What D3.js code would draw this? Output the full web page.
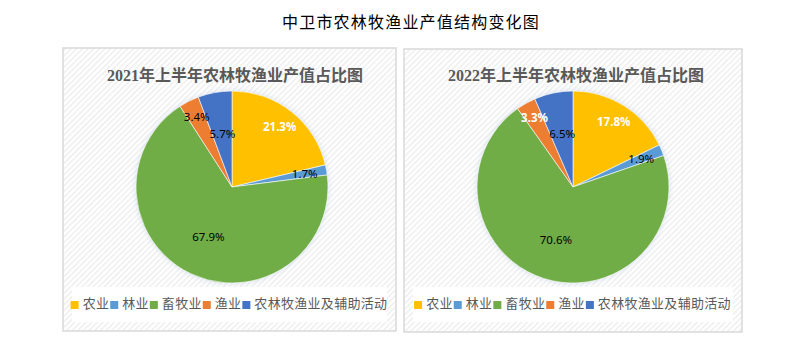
<!DOCTYPE html>
<html>
<head>
<meta charset="utf-8">
<script src="https://cdn.jsdelivr.net/npm/d3@7"></script>
<style>
  html, body { margin: 0; padding: 0; background: #fff; }
  svg { display: block; }
</style>
</head>
<body>
<svg id="chart" width="797" height="346"></svg>
<script>
// Sector shares of agriculture, forestry, husbandry and fishery output (%)
const categories = ["农业", "林业", "畜牧业", "渔业", "农林牧渔业及辅助活动"];
const colors = ["#FFC000", "#5B9BD5", "#70AD47", "#ED7D31", "#4472C4"];
const values2021 = [21.3, 1.7, 67.9, 3.4, 5.7];
const values2022 = [17.8, 1.9, 70.6, 3.3, 6.5];
const chartTitle = "中卫市农林牧渔业产值结构变化图";
const panelTitles = ["2021年上半年农林牧渔业产值占比图", "2022年上半年农林牧渔业产值占比图"];

// Label placement (fraction of radius) and label styling per slice
const labelRadius = [0.8, 0.77, 0.58, 0.82, 0.56];
const labelStyles = [
  [{fill: "#fff", bold: true}, {fill: "#000"}, {fill: "#000"}, {fill: "#000"}, {fill: "#000"}],
  [{fill: "#fff", bold: true}, {fill: "#000"}, {fill: "#000"}, {fill: "#fff", bold: true}, {fill: "#000"}]
];

const svg = d3.select("#chart");
const defs = svg.append("defs");

// Light diagonal hatch used as panel background
const pat = defs.append("pattern")
  .attr("id", "hatch").attr("patternUnits", "userSpaceOnUse")
  .attr("width", 4).attr("height", 4)
  .attr("patternTransform", "rotate(45)");
pat.append("rect").attr("width", 4).attr("height", 4).attr("fill", "#fff");
pat.append("rect").attr("width", 1.3).attr("height", 4).attr("fill", "#ececec");

defs.append("filter").attr("id", "halo")
  .attr("x", "-20%").attr("y", "-20%").attr("width", "140%").attr("height", "140%")
  .append("feGaussianBlur").attr("stdDeviation", 2.5);

svg.append("text")
  .attr("x", 411).attr("y", 28)
  .attr("text-anchor", "middle")
  .attr("font-family", "'Noto Sans CJK SC', sans-serif")
  .attr("font-size", 16)
  .attr("letter-spacing", 1.2)
  .attr("fill", "#000")
  .text(chartTitle);

const panels = [
  {x: 63, y: 48, w: 333, h: 283, cx: 232, cy: 187, values: values2021},
  {x: 404, y: 49, w: 338, h: 283, cx: 573, cy: 187, values: values2022}
];

const r = 96;
const pie = d3.pie().sort(null).value(d => d);
const arc = d3.arc().innerRadius(0).outerRadius(r);

panels.forEach((p, pi) => {
  const g = svg.append("g");
  g.append("rect")
    .attr("x", p.x).attr("y", p.y).attr("width", p.w).attr("height", p.h)
    .attr("fill", "url(#hatch)")
    .attr("stroke", "#d9d9d9").attr("stroke-width", 1.5);

  // Panel title: serif digits, CJK text
  const t = g.append("text")
    .attr("x", p.cx + 3).attr("y", 81)
    .attr("text-anchor", "middle")
    .attr("font-size", 16).attr("font-weight", "bold")
    .attr("fill", "#595959");
  const title = panelTitles[pi];
  t.append("tspan").attr("font-family", "'Liberation Serif', serif").text(title.slice(0, 4));
  t.append("tspan").attr("font-family", "'Noto Sans CJK SC', sans-serif").text(title.slice(4));

  const pg = g.append("g").attr("transform", `translate(${p.cx},${p.cy})`);
  pg.append("circle").attr("r", r + 1).attr("fill", "#c9d6ea").attr("opacity", 0.6)
    .attr("filter", "url(#halo)");

  const arcs = pie(p.values);
  pg.selectAll("path.slice").data(arcs).enter().append("path")
    .attr("class", "slice")
    .attr("d", arc)
    .attr("fill", (d, i) => colors[i])
    .attr("stroke", "#fff").attr("stroke-width", 0.6);

  pg.selectAll("text.lbl").data(arcs).enter().append("text")
    .attr("class", "lbl")
    .attr("transform", (d, i) => {
      const c = d3.arc().innerRadius(0).outerRadius(2 * r * labelRadius[i]).centroid(d);
      return `translate(${c[0]},${c[1]})`;
    })
    .attr("text-anchor", "middle")
    .attr("dy", "0.35em")
    .attr("font-family", "'Noto Sans', 'DejaVu Sans', sans-serif")
    .attr("font-size", 11.5)
    .attr("font-weight", (d, i) => labelStyles[pi][i].bold ? "bold" : "normal")
    .attr("fill", (d, i) => labelStyles[pi][i].fill)
    .text(d => d3.format(".1f")(d.data) + "%");

  // Legend on a white strip
  const lx = p.x + 9, ly = 287;
  g.append("rect").attr("x", lx).attr("y", ly).attr("width", p.w - 18).attr("height", 35)
    .attr("fill", "#fff");
  const lg = g.append("g");
  let cursor = 0;
  const items = [];
  categories.forEach((c, i) => {
    const it = lg.append("g");
    it.append("rect").attr("x", 0).attr("y", -7).attr("width", 8).attr("height", 8)
      .attr("fill", colors[i]);
    it.append("text").attr("x", 12).attr("y", 0)
      .attr("font-family", "'Noto Sans CJK SC', sans-serif")
      .attr("font-size", 13).attr("letter-spacing", 0.3)
      .attr("fill", "#595959")
      .text(c);
    items.push(it);
  });
  items.forEach(it => {
    it.attr("transform", `translate(${cursor},0)`);
    cursor += it.node().getBBox().width + 1;
  });
  const lcx = p.x + p.w / 2;
  lg.attr("transform", `translate(${lcx - cursor / 2},${ly + 21})`);
});
</script>
</body>
</html>
